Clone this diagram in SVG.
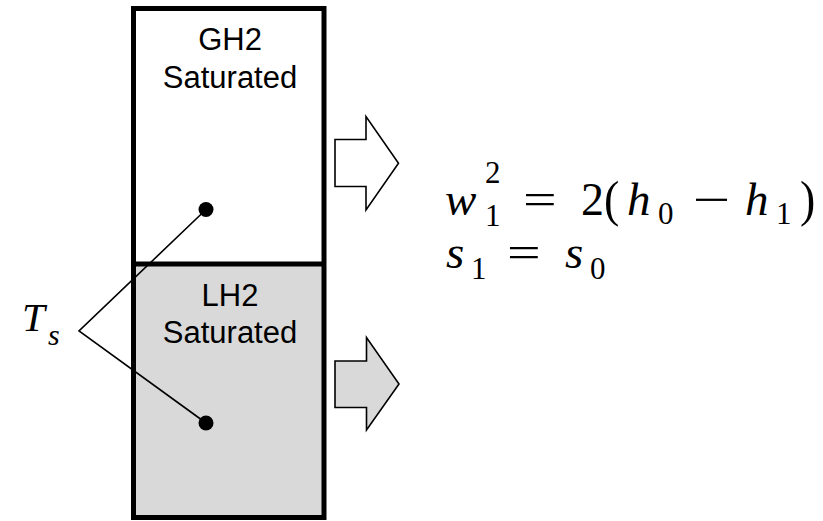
<svg xmlns="http://www.w3.org/2000/svg" width="823" height="521" viewBox="0 0 823 521">
<style>
.arrow{stroke:#000;stroke-width:1.6;stroke-linejoin:miter}
.conn{stroke:#000;stroke-width:1.6;fill:none}
</style>
<rect width="823" height="521" fill="#fff"/>
<g id="tank">
  <rect x="133.5" y="264" width="190.5" height="253.5" fill="#d9d9d9"/>
  <rect x="133.5" y="8.5" width="190.5" height="509" fill="none" stroke="#000" stroke-width="5"/>
  <line x1="133.5" y1="264" x2="324" y2="264" stroke="#000" stroke-width="5"/>
</g>
<g id="gh2" font-family="Liberation Sans, Arial, sans-serif" font-size="31" text-anchor="middle" fill="#000">
  <text x="230" y="50">GH2</text>
  <text x="230" y="88">Saturated</text>
</g>
<g id="lh2" font-family="Liberation Sans, Arial, sans-serif" font-size="31" text-anchor="middle" fill="#000">
  <text x="230" y="306">LH2</text>
  <text x="230" y="343">Saturated</text>
</g>
<g id="arrow-gas">
  <polygon class="arrow" fill="#fff" points="335,139.5 366,139.5 366,116.5 398.5,163.3 366,210 366,186.5 335,186.5"/>
</g>
<g id="arrow-liquid">
  <polygon class="arrow" fill="#d9d9d9" points="335,361 366.5,361 366.5,337.5 399,384 366.5,430 366.5,407.5 335,407.5"/>
</g>
<g id="connectors">
  <polyline class="conn" points="206,209.5 79,331 206,423"/>
  <circle cx="206" cy="209.5" r="7.5" fill="#000"/>
  <circle cx="206" cy="423" r="7.5" fill="#000"/>
</g>
<g id="ts" font-family="Liberation Serif, Times New Roman, serif" font-style="italic" fill="#000">
  <text x="22" y="331" font-size="41">T</text>
  <text x="48" y="345" font-size="30">s</text>
</g>
<g id="equations" font-family="Liberation Serif, Times New Roman, serif" fill="#000">
  <text x="445" y="215" font-size="47" font-style="italic">w</text>
  <text x="485" y="183" font-size="31">2</text>
  <text x="485" y="226" font-size="31">1</text>
  <text transform="translate(523,215) scale(1.3,1)" font-size="46">=</text>
  <text x="581" y="215" font-size="46">2</text>
  <text transform="translate(604,216) scale(1,1.12)" font-size="46">(</text>
  <text x="627" y="215" font-size="47" font-style="italic">h</text>
  <text x="658" y="224" font-size="31">0</text>
  <text transform="translate(693,215) scale(1.45,1)" font-size="46">−</text>
  <text x="745" y="215" font-size="47" font-style="italic">h</text>
  <text x="776" y="224" font-size="31">1</text>
  <text transform="translate(800,216) scale(1,1.12)" font-size="46">)</text>
  <text x="446" y="268" font-size="47" font-style="italic">s</text>
  <text x="471" y="279" font-size="31">1</text>
  <text transform="translate(507,268) scale(1.3,1)" font-size="46">=</text>
  <text x="565" y="268" font-size="47" font-style="italic">s</text>
  <text x="590" y="279" font-size="31">0</text>
</g>
</svg>
